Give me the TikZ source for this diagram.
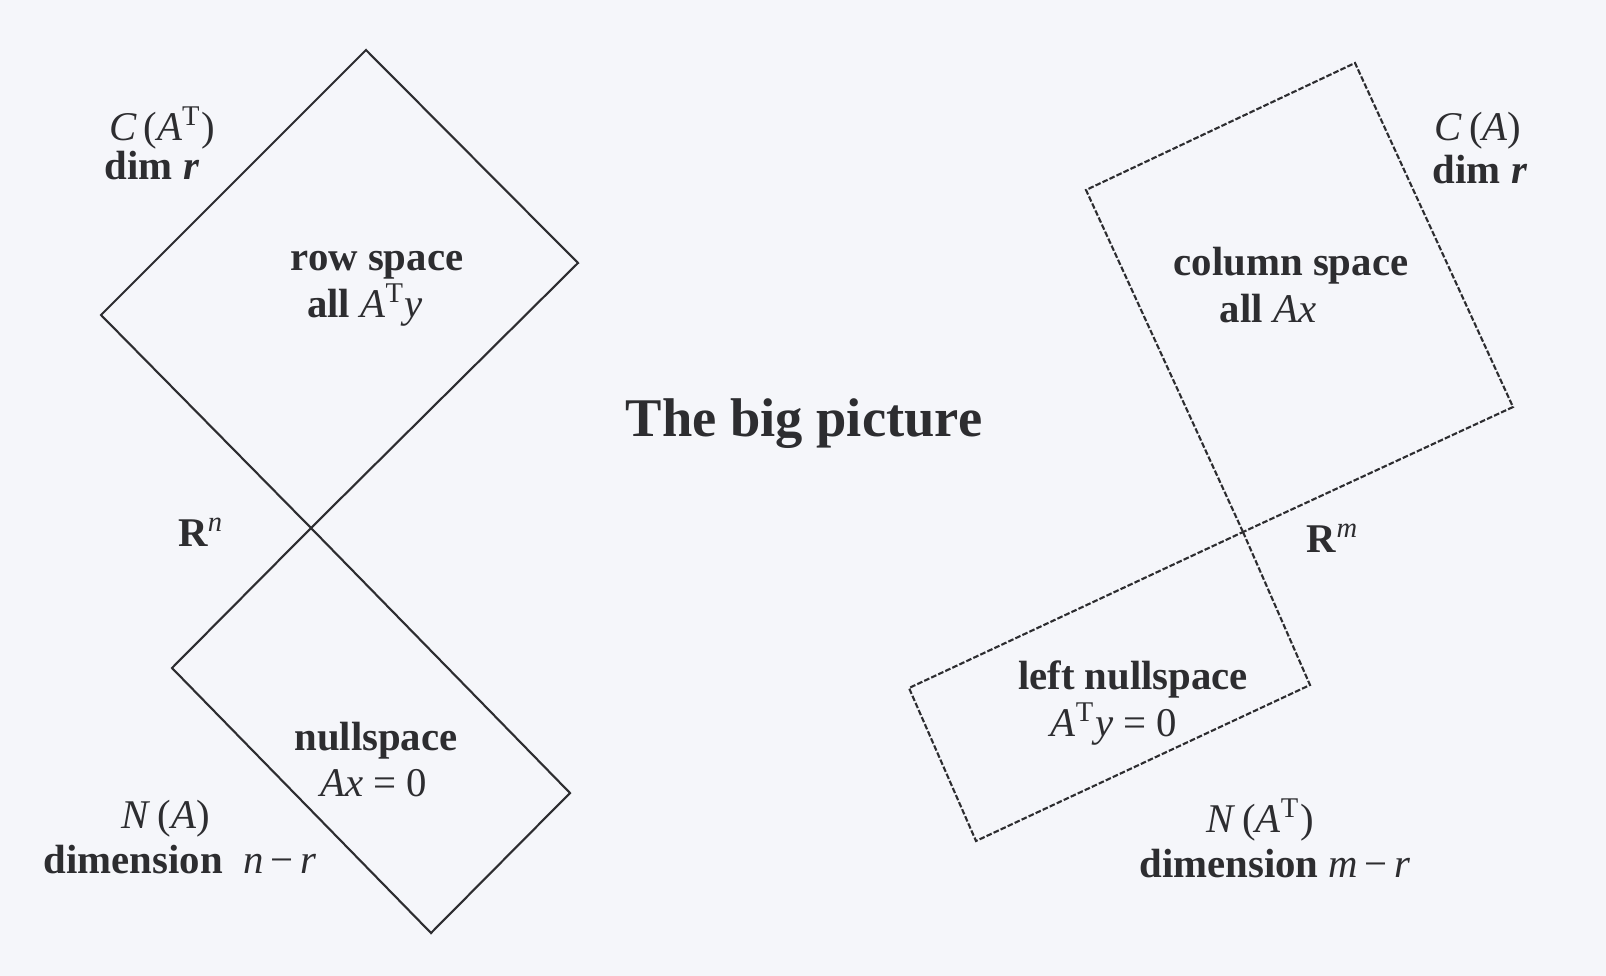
\documentclass[tikz,border=0pt]{standalone}
\usepackage{fontspec}
\setmainfont{Liberation Serif}
\usepackage{tikz}
\usetikzlibrary{positioning}
\usepackage{xcolor}
\definecolor{paper}{RGB}{245,246,250}
\definecolor{inkgray}{RGB}{45,45,48}

\begin{document}
\begin{tikzpicture}[x=0.01cm, y=-0.01cm,
  every node/.style={text=inkgray, inner sep=0pt, font=\fontsize{11.6}{13}\selectfont},
  space/.style={draw=inkgray, line width=0.6pt, line join=miter},
  spacedash/.style={space, dash pattern=on 1.6pt off 0.6pt}]
  \fill[paper] (0,0) rectangle (1606,976);
  \useasboundingbox (0,0) rectangle (1606,976);

  \coordinate (rT) at (366,50);
  \coordinate (rR) at (578,263);
  \coordinate (rL) at (101,315);
  \coordinate (o1) at (311,528);
  \coordinate (nL) at (172,668);
  \coordinate (nR) at (570,793);
  \coordinate (nB) at (431,933);

  \coordinate (cT) at (1355,63);
  \coordinate (cL) at (1086,190);
  \coordinate (cR) at (1513,407);
  \coordinate (o2) at (1243,532);
  \coordinate (lL) at (909,688);
  \coordinate (lR) at (1310,685);
  \coordinate (lB) at (976,841);

  \draw[space] (o1) -- (rL) -- (rT) -- (rR) -- cycle;
  \draw[space] (o1) -- (nR) -- (nB) -- (nL) -- cycle;
  \draw[spacedash] (o2) -- (cL) -- (cT) -- (cR) -- cycle;
  \draw[spacedash] (o2) -- (lR) -- (lB) -- (lL) -- cycle;

  \node (rowname) at (162,128) {\textit{C}\,(\textit{A}\textsuperscript{T})};
  \node (rowdim)  at (152,166) {\textbf{dim \textit{r}}};
  \node (rowlab)  at (377,265) {\textbf{row space}};
  \node (rowall)  at (365,305) {\textbf{all} \textit{A}\textsuperscript{T}\textit{y}};
  \node (rn)      at (201,532) {\textbf{R}\textsuperscript{\textit{n}}};
  \node (nulllab) at (376,741) {\textbf{nullspace}};
  \node (nulleq)  at (374,783) {\textit{Ax} = 0};
  \node (nullname) at (166,819) {\textit{N}\,(\textit{A})};
  \node (nulldim) at (180,860) {\textbf{dimension}\enspace\textit{n}\,−\,\textit{r}};

  \node[font=\fontsize{15.5}{18}\selectfont\bfseries] (title) at (804,424) {The big picture};

  \node (colname) at (1478,131) {\textit{C}\,(\textit{A})};
  \node (coldim)  at (1480,170) {\textbf{dim \textit{r}}};
  \node (collab)  at (1291,266) {\textbf{column space}};
  \node (colall)  at (1268,309) {\textbf{all} \textit{Ax}};
  \node (rm)      at (1333,538) {\textbf{R}\textsuperscript{\textit{m}}};
  \node (lnlab)   at (1133,679) {\textbf{left nullspace}};
  \node (lneq)    at (1114,724) {\textit{A}\textsuperscript{T}\textit{y} = 0};
  \node (lnname)  at (1260,820) {\textit{N}\,(\textit{A}\textsuperscript{T})};
  \node (lndim)   at (1275,864) {\textbf{dimension} \textit{m}\,−\,\textit{r}};
\end{tikzpicture}
\end{document}
